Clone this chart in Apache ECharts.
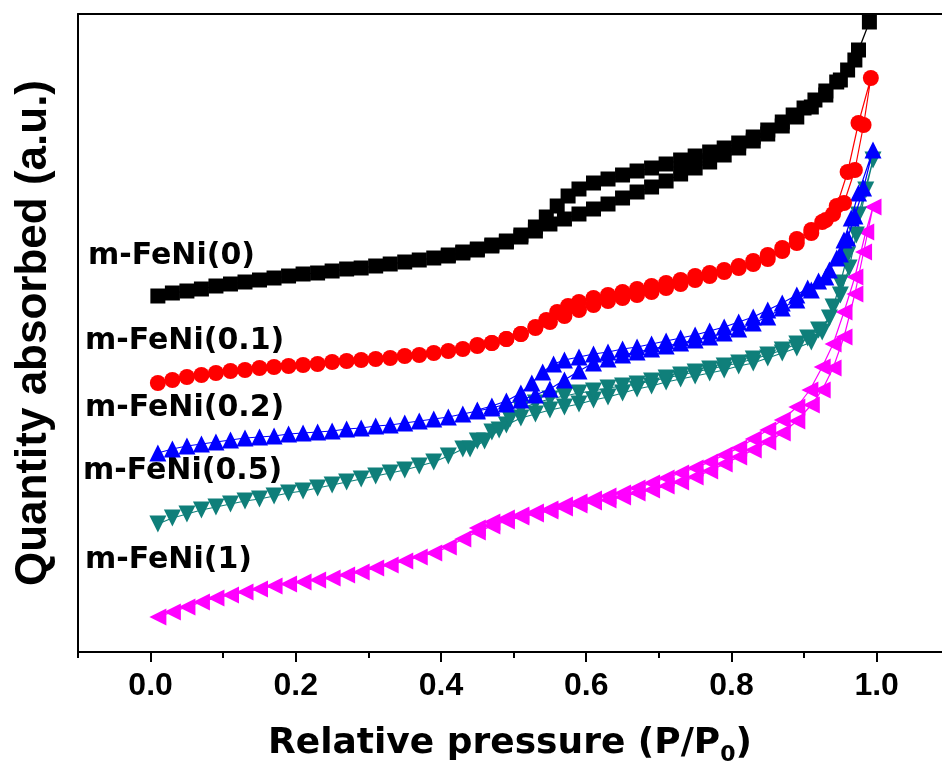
<!DOCTYPE html>
<html>
<head>
<meta charset="utf-8">
<script src="https://cdn.jsdelivr.net/npm/echarts@6/dist/echarts.min.js"></script>
<style>
html,body{margin:0;padding:0;background:#fff;}
#c{width:942px;height:771px;}
</style>
</head>
<body>
<div id="c"></div>
<script>
// ---- data: [P/P0, quantity (a.u.)] ----
const seriesNames = ['m-FeNi(0)', 'm-FeNi(0.1)', 'm-FeNi(0.2)', 'm-FeNi(0.5)', 'm-FeNi(1)'];
const xMajorTicks = [0, 0.2, 0.4, 0.6, 0.8, 1.0];
const xMinorTicks = [-0.1, 0.1, 0.3, 0.5, 0.7, 0.9];

const fe0Ads = [[0.01,356],[0.03,359],[0.05,361],[0.07,363],[0.09,366],[0.11,368],[0.13,370],[0.15,372],[0.17,374],[0.19,376],[0.21,378],[0.23,379],[0.25,381],[0.27,383],[0.29,384],[0.31,386],[0.33,388],[0.35,390],[0.37,392],[0.39,394],[0.41,396],[0.43,399],[0.45,402],[0.47,406],[0.49,410],[0.51,415],[0.53,421],[0.55,428],[0.57,433],[0.59,438],[0.61,443],[0.63,448],[0.65,454],[0.67,460],[0.69,465],[0.71,471],[0.73,478],[0.75,484],[0.77,490],[0.79,497],[0.81,504],[0.83,511],[0.85,518],[0.87,526],[0.89,535],[0.91,545],[0.93,557],[0.95,572],[0.97,592],[0.99,630]];
const fe0Des = [[0.975,602],[0.96,582],[0.945,570],[0.93,561],[0.915,552],[0.9,544],[0.885,537],[0.87,530],[0.85,522],[0.83,515],[0.81,509],[0.79,504],[0.77,500],[0.75,496],[0.73,492],[0.71,488],[0.69,484],[0.67,481],[0.65,477],[0.63,473],[0.61,469],[0.59,463],[0.575,456],[0.56,446],[0.545,435],[0.53,425],[0.51,417],[0.49,411],[0.47,407],[0.45,403],[0.43,400],[0.41,397]];

const fe01Ads = [[0.01,269],[0.03,272],[0.05,275],[0.07,277],[0.09,279],[0.11,281],[0.13,282],[0.15,284],[0.17,285],[0.19,286],[0.21,287],[0.23,288],[0.25,290],[0.27,291],[0.29,292],[0.31,293],[0.33,294],[0.35,296],[0.37,297],[0.39,299],[0.41,301],[0.43,303],[0.45,306],[0.47,309],[0.49,313],[0.51,318],[0.53,324],[0.55,330],[0.57,336],[0.59,342],[0.61,347],[0.63,351],[0.65,354],[0.67,357],[0.69,360],[0.71,364],[0.73,368],[0.75,372],[0.77,376],[0.79,380],[0.81,384],[0.83,388],[0.85,393],[0.87,401],[0.89,409],[0.91,419],[0.93,432],[0.945,446],[0.96,480],[0.975,529],[0.992,574]];
const fe01Des = [[0.982,527],[0.97,482],[0.955,449],[0.94,438],[0.925,430],[0.91,422],[0.89,413],[0.87,404],[0.85,397],[0.83,391],[0.81,386],[0.79,382],[0.77,379],[0.75,376],[0.73,372],[0.71,369],[0.69,366],[0.67,363],[0.65,360],[0.63,357],[0.61,354],[0.59,350],[0.575,346],[0.56,340],[0.545,332],[0.53,325],[0.51,318],[0.49,313],[0.47,309],[0.45,307]];

const fe02Ads = [[0.01,199],[0.03,203],[0.05,206],[0.07,208],[0.09,210],[0.11,212],[0.13,214],[0.15,215],[0.17,216],[0.19,218],[0.21,219],[0.23,220],[0.25,221],[0.27,223],[0.29,224],[0.31,226],[0.33,227],[0.35,229],[0.37,231],[0.39,233],[0.41,235],[0.43,238],[0.45,241],[0.47,244],[0.49,248],[0.51,252],[0.53,257],[0.55,263],[0.57,272],[0.59,281],[0.61,289],[0.63,293],[0.65,297],[0.67,300],[0.69,303],[0.71,306],[0.73,309],[0.75,312],[0.77,315],[0.79,319],[0.81,323],[0.83,329],[0.85,335],[0.87,344],[0.89,352],[0.91,362],[0.93,375],[0.945,394],[0.955,412],[0.965,434],[0.975,459],[0.995,502]];
const fe02Des = [[0.982,464],[0.97,436],[0.96,414],[0.95,398],[0.935,382],[0.92,371],[0.905,364],[0.89,357],[0.87,349],[0.85,342],[0.83,335],[0.81,330],[0.79,325],[0.77,321],[0.75,317],[0.73,314],[0.71,311],[0.69,308],[0.67,305],[0.65,303],[0.63,300],[0.61,298],[0.59,295],[0.57,292],[0.555,288],[0.54,280],[0.525,269],[0.51,259],[0.49,251],[0.47,246],[0.45,242]];

const fe05Ads = [[0.01,128],[0.03,134],[0.05,138],[0.07,142],[0.09,145],[0.11,148],[0.13,151],[0.15,153],[0.17,156],[0.19,159],[0.21,161],[0.23,164],[0.25,167],[0.27,170],[0.29,173],[0.31,176],[0.33,179],[0.35,182],[0.37,186],[0.39,190],[0.41,196],[0.43,203],[0.45,211],[0.47,220],[0.49,227],[0.51,234],[0.53,238],[0.55,242],[0.57,245],[0.59,248],[0.61,252],[0.63,255],[0.65,259],[0.67,263],[0.69,266],[0.71,270],[0.73,273],[0.75,276],[0.77,279],[0.79,282],[0.81,286],[0.83,289],[0.85,294],[0.87,299],[0.89,304],[0.91,310],[0.925,320],[0.94,345],[0.95,369],[0.96,397],[0.975,437],[0.995,492]];
const fe05Des = [[0.985,462],[0.972,417],[0.962,384],[0.95,357],[0.935,334],[0.92,322],[0.905,314],[0.89,308],[0.87,302],[0.85,297],[0.83,293],[0.81,289],[0.79,286],[0.77,283],[0.75,280],[0.73,277],[0.71,274],[0.69,271],[0.67,268],[0.65,266],[0.63,264],[0.61,261],[0.59,259],[0.57,256],[0.55,253],[0.53,249],[0.51,243],[0.495,233],[0.48,222],[0.46,211],[0.44,203]];

const fe1Ads = [[0.01,35],[0.03,40],[0.05,45],[0.07,50],[0.09,54],[0.11,57],[0.13,60],[0.15,63],[0.17,66],[0.19,68],[0.21,70],[0.23,72],[0.25,74],[0.27,77],[0.29,80],[0.31,84],[0.33,87],[0.35,91],[0.37,95],[0.39,99],[0.41,105],[0.43,113],[0.45,120],[0.47,126],[0.49,131],[0.51,135],[0.53,138],[0.55,141],[0.57,144],[0.59,147],[0.61,150],[0.63,152],[0.65,155],[0.67,159],[0.69,162],[0.71,166],[0.73,170],[0.75,175],[0.77,181],[0.79,188],[0.81,195],[0.83,202],[0.85,210],[0.87,219],[0.89,231],[0.91,247],[0.925,262],[0.94,284],[0.955,315],[0.97,358],[0.982,400],[0.995,445]];
const fe1Des = [[0.985,420],[0.97,375],[0.955,340],[0.94,308],[0.925,285],[0.908,262],[0.89,245],[0.87,232],[0.85,222],[0.83,213],[0.81,204],[0.79,197],[0.77,190],[0.75,184],[0.73,179],[0.71,174],[0.69,169],[0.67,164],[0.65,159],[0.63,156],[0.61,153],[0.59,150],[0.57,147],[0.55,143],[0.53,140],[0.51,137],[0.49,134],[0.47,130],[0.45,124]];

const colors = ['#000000', '#ff0000', '#0000ff', '#0f7f7a', '#ff00ff'];
const symbols = ['rect', 'circle', 'triangle', 'triangle', 'triangle'];
const rotations = [0, 0, 0, 180, 90];
const symbolSizes = [15, 16, 17, 17, 17];
const isotherms = [
  fe0Ads.concat(fe0Des),
  fe01Ads.concat(fe01Des),
  fe02Ads.concat(fe02Des),
  fe05Ads.concat(fe05Des),
  fe1Ads.concat(fe1Des)
];
// label anchor positions (text annotations, pixel)
const labelPos = [[88, 258], [85, 343], [85, 410], [83, 473], [85, 562]];

const chart = echarts.init(document.getElementById('c'), null, {renderer: 'canvas'});

const axisFont = '"Liberation Sans", Arial, sans-serif';
const wideFont = '"DejaVu Sans", sans-serif';

const option = {
  animation: false,
  backgroundColor: '#ffffff',
  grid: {left: 78, top: 14, right: 0, bottom: 119, containLabel: false},
  xAxis: [
    {
      type: 'value', min: -0.1, max: 1.09, position: 'bottom',
      axisLine: {show: true, onZero: false, lineStyle: {color: '#000', width: 2}},
      axisTick: {show: true, inside: false, length: 10, customValues: xMajorTicks, lineStyle: {color: '#000', width: 2}},
      axisLabel: {show: true, customValues: xMajorTicks, margin: 18, color: '#000', fontSize: 32, fontWeight: 'bold', fontFamily: axisFont,
        formatter: v => v.toFixed(1)},
      splitLine: {show: false},
      name: 'Relative pressure (P/P{sub|0})',
      nameLocation: 'middle', nameGap: 70,
      nameTextStyle: {color: '#000', fontSize: 36, fontWeight: 'bold', fontFamily: wideFont, lineHeight: 44,
        rich: {sub: {fontSize: 22, fontWeight: 'bold', fontFamily: wideFont, color: '#000', verticalAlign: 'bottom', lineHeight: 22}}}
    },
    {
      type: 'value', min: -0.1, max: 1.09, position: 'bottom',
      axisLine: {show: false, onZero: false},
      axisTick: {show: true, inside: false, length: 6, customValues: xMinorTicks, lineStyle: {color: '#000', width: 2}},
      axisLabel: {show: false},
      splitLine: {show: false}
    },
    {
      type: 'value', min: -0.1, max: 1.09, position: 'top',
      axisLine: {show: true, onZero: false, lineStyle: {color: '#000', width: 2}},
      axisTick: {show: false}, axisLabel: {show: false}, splitLine: {show: false}
    }
  ],
  yAxis: {
    type: 'value', min: 0, max: 638,
    axisLine: {show: true, onZero: false, lineStyle: {color: '#000', width: 2}},
    axisTick: {show: false}, axisLabel: {show: false}, splitLine: {show: false},
    name: 'Quantity absorbed (a.u.)', nameLocation: 'middle', nameRotate: 90, nameGap: 22,
    nameTextStyle: {color: '#000', fontSize: 44, fontWeight: 'bold', fontFamily: axisFont}
  },
  series: isotherms.map((d, i) => ({
    name: seriesNames[i],
    type: 'line',
    xAxisIndex: 0,
    data: d,
    symbol: symbols[i],
    symbolSize: symbolSizes[i],
    symbolRotate: rotations[i],
    showAllSymbol: true,
    clip: false,
    lineStyle: {color: colors[i], width: 1.2},
    itemStyle: {color: colors[i], borderWidth: 0},
    z: 10 - i
  })),
  graphic: seriesNames.map((n, i) => ({
    type: 'text', left: labelPos[i][0], top: labelPos[i][1] - 17,
    style: {text: n, fill: '#000', font: 'bold 30px "DejaVu Sans", sans-serif'}
  }))
};
chart.setOption(option);
</script>
</body>
</html>
